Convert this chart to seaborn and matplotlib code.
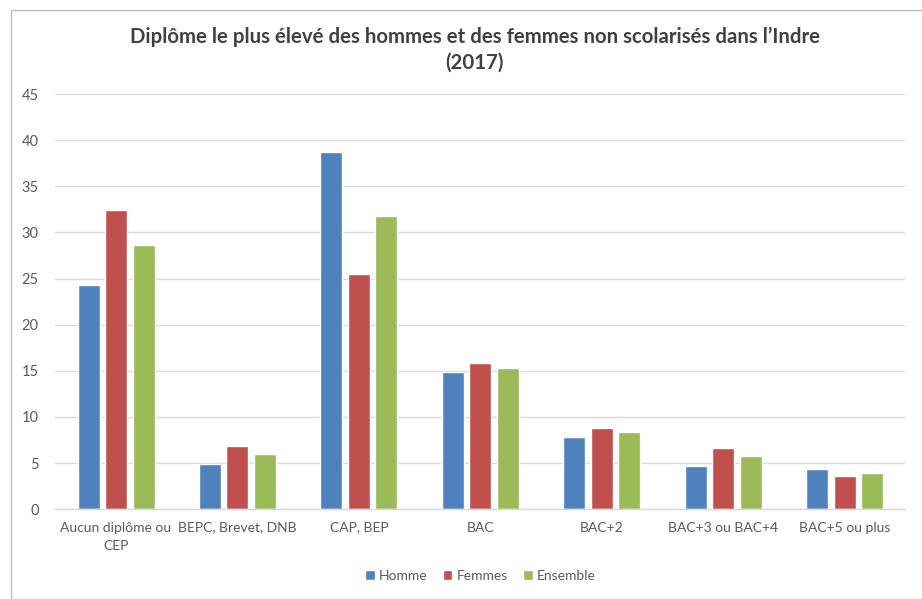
import matplotlib
matplotlib.use("Agg")
import matplotlib.pyplot as plt
import seaborn as sns
import pandas as pd
from matplotlib.patches import Rectangle

categories = ["Aucun diplôme ou\nCEP", "BEPC, Brevet, DNB", "CAP, BEP", "BAC",
              "BAC+2", "BAC+3 ou BAC+4", "BAC+5 ou plus"]
homme = [24.3, 4.9, 38.7, 14.9, 7.8, 4.7, 4.3]
femmes = [32.4, 6.9, 25.5, 15.8, 8.8, 6.6, 3.6]
ensemble = [28.6, 6.0, 31.8, 15.3, 8.35, 5.75, 3.9]
series = ["Homme", "Femmes", "Ensemble"]
colors = ["#4F81BD", "#C0504D", "#9BBB59"]
yticks = [0, 5, 10, 15, 20, 25, 30, 35, 40, 45]

rows = []
for name, vals in zip(series, [homme, femmes, ensemble]):
    for c, v in zip(categories, vals):
        rows.append({"cat": c, "serie": name, "val": v})
df = pd.DataFrame(rows)

sns.set_theme(style="white")
plt.rcParams['font.family'] = ['Lato', 'DejaVu Sans']

fig = plt.figure(figsize=(9.22, 5.99), dpi=100)
ax = fig.add_axes([0.06, 0.150, 0.922, 0.693])

sns.barplot(data=df, x="cat", y="val", hue="serie", palette=colors,
            width=0.68, gap=0.2, ax=ax, order=categories, hue_order=series,
            saturation=1, legend=True)

ax.set_ylim(0, 45)
ax.set_yticks(yticks)
ax.set_xlim(-0.5, len(categories) - 0.5)
ax.yaxis.grid(True, color="#D9D9D9", linewidth=1)
ax.set_axisbelow(True)
for s in ["top", "right", "left"]:
    ax.spines[s].set_visible(False)
ax.spines["bottom"].set_color("#D9D9D9")
ax.spines["bottom"].set_linewidth(1)
ax.set_xlabel("")
ax.set_ylabel("")
ax.tick_params(axis="both", length=0, colors="#595959")
ax.tick_params(axis="y", pad=12, labelsize=10.5)
ax.tick_params(axis="x", pad=9, labelsize=10)
for lbl in ax.get_xticklabels():
    lbl.set_linespacing(1.6)

ax.legend(loc="center", bbox_to_anchor=(0.5, -0.161), ncol=3, frameon=False,
          fontsize=10, handlelength=0.7, handleheight=0.7, handletextpad=0.3,
          columnspacing=1.1, labelcolor="#595959")

fig.text(0.515, 0.938, "Diplôme le plus élevé des hommes et des femmes non scolarisés dans l’Indre",
         ha="center", va="center", fontsize=14.7, fontweight="bold", color="#404040")
fig.text(0.515, 0.896, "(2017)", ha="center", va="center", fontsize=14.7,
         fontweight="bold", color="#404040")

# chart frame
fig.patches.append(Rectangle((0.012, 0.0), 0.99, 0.983, transform=fig.transFigure,
                             fill=False, edgecolor="#BFBFBF", linewidth=1))

fig.savefig("out.png", dpi=100)
